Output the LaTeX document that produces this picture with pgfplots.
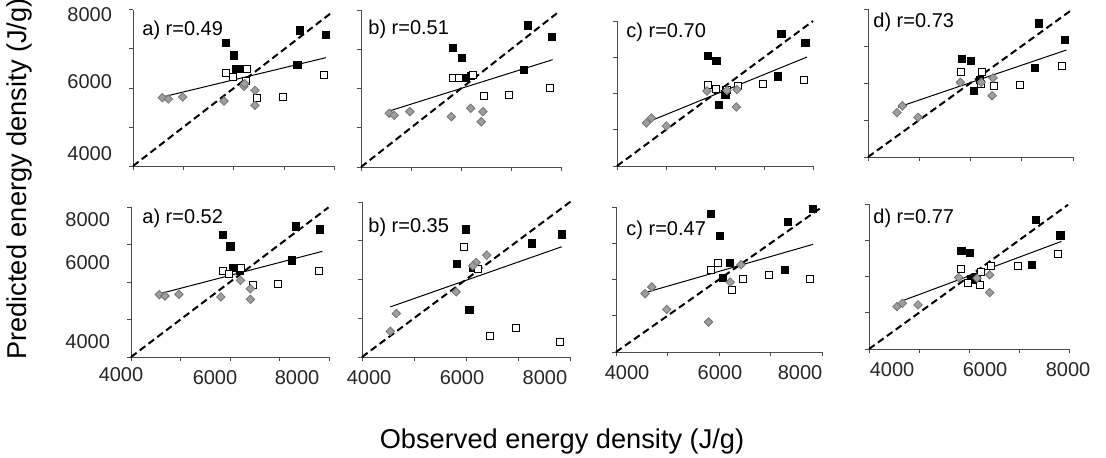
\documentclass[border=0pt]{standalone}
\usepackage{fontspec}
\setmainfont{Liberation Sans}
\usepackage{pgfplots}
\pgfplotsset{compat=1.18}

% 1 px of the reference = 0.5pt
\pgfplotsset{
  panel/.style={
    scale only axis, anchor=south west, clip=false,
    xmin=4000, xmax=8000, ymin=4000, ymax=8000,
    axis x line=bottom, axis y line=left,
    axis line style={-, draw=black!70, line width=0.5pt},
    xtick={4000,5000,6000,7000,8000},
    ytick={4000,5000,6000,7000,8000},
    xticklabels={}, yticklabels={},
    tick align=outside, major tick length=2pt,
    tick style={draw=black!70, line width=0.5pt},
    tick label style={font=\fontsize{10}{12}\selectfont, text=black!85},
    /pgf/number format/assume math mode=true,
  },
  % the reference sets its tick numbers a little off the ticks; keep them where they stand
  bottomrow/.style={extra x ticks={#1}, extra x tick labels={4000,6000,8000},
    extra x tick style={major tick length=0pt, xticklabel style={yshift=-3pt}}},
  leftcol/.style={extra y ticks={#1}, extra y tick labels={4000,6000,8000},
    extra y tick style={major tick length=0pt, yticklabel style={xshift=-7pt}}},
  blk/.style={only marks, mark=square*, mark size=1.8pt, mark options={fill=black, draw=black}},
  wht/.style={only marks, mark=square*, mark size=1.75pt, mark options={fill=white, draw=black, line width=0.5pt}},
  dia/.style={only marks, mark=square*, mark size=1.5pt, mark options={rotate=45, fill=black!38, draw=black!55, line width=0.4pt}},
  reg/.style={no marks, black, line width=0.5pt},
  one/.style={no marks, black, line width=1pt, dash pattern=on 3.5pt off 2pt},
}

\begin{document}
\begin{tikzpicture}
\useasboundingbox (0,0) rectangle (553pt,228.5pt);

% ---------------- top row ----------------
\begin{axis}[panel, leftcol={4308,6154,7872}, at={(66.5pt,145.5pt)}, width=101pt, height=78pt]
  \addplot[one] coordinates {(4000,4000) (7950,7950)};
  \addplot[reg] coordinates {(4581,5769) (7822,6778)};
  \addplot[blk] coordinates {(5842,7162) (5999,6838) (6039,6496) (6185,6496) (7307,7479) (7822,7368) (7254,6598)};
  \addplot[wht] coordinates {(5842,6385) (5987,6282) (6251,6479) (6231,6171) (6449,5744) (6964,5769) (7782,6342)};
  \addplot[dia] coordinates {(4581,5752) (4700,5718) (4983,5769) (5802,5667) (6198,6043) (6416,5940) (6416,5556) (6211,6111)};
\end{axis}

\begin{axis}[panel, at={(180.5pt,145pt)}, width=100pt, height=78.5pt]
  \addplot[one] coordinates {(4000,4000) (7960,7960)};
  \addplot[reg] coordinates {(4565,5427) (7834,6735)};
  \addplot[blk] coordinates {(5841,7034) (6020,6778) (6093,6274) (6193,6325) (7256,6470) (7336,7607) (7814,7308)};
  \addplot[wht] coordinates {(5841,6274) (5960,6274) (6239,6350) (6452,5812) (6950,5838) (7781,6017)};
  \addplot[dia] coordinates {(4565,5368) (4664,5316) (4977,5410) (5807,5282) (6193,5496) (6439,5410) (6405,5154)};
\end{axis}

\begin{axis}[panel, at={(308.5pt,145.5pt)}, width=98pt, height=72.5pt]
  \addplot[one] coordinates {(4000,4000) (8000,8000)};
  \addplot[reg] coordinates {(4578,5186) (7878,7007)};
  \addplot[blk] coordinates {(5857,7034) (6027,6897) (7354,7651) (7844,7402) (7286,6474) (6075,5692) (6211,5977) (6231,6106)};
  \addplot[wht] coordinates {(5857,6244) (6027,6133) (6245,6087) (6469,6216) (6980,6271) (7810,6382)};
  \addplot[dia] coordinates {(4599,5186) (4701,5324) (5007,5103) (5837,6069) (6245,6087) (6449,6106) (6435,5628)};
\end{axis}

\begin{axis}[panel, at={(434pt,150pt)}, width=102.5pt, height=74pt]
  \addplot[one] coordinates {(4000,4000) (7950,7950)};
  \addplot[reg] coordinates {(4585,5345) (7870,6891)};
  \addplot[blk] coordinates {(5834,6655) (6003,6591) (6179,6091) (6062,5791) (7337,7609) (7844,7155) (7259,6409)};
  \addplot[wht] coordinates {(5821,6291) (6231,6309) (6211,5982) (6452,5927) (6959,5955) (7792,6455)};
  \addplot[dia] coordinates {(4566,5200) (4670,5382) (4976,5073) (5802,6018) (6211,6018) (6439,6136) (6420,5655)};
\end{axis}

% ---------------- bottom row ----------------
\begin{axis}[panel, leftcol={4400,6507,7653}, extra x ticks={5697,7354},
    extra x tick labels={6000,8000},
    extra x tick style={major tick length=0pt, xticklabel style={yshift=-3pt}},
    at={(65.5pt,50pt)}, width=99pt, height=75pt]
  \addplot[one] coordinates {(4000,4000) (7990,7990)};
  \addplot[reg] coordinates {(4585,5689) (7866,6818)};
  \addplot[blk] coordinates {(5849,7262) (6010,6951) (6064,6373) (6198,6311) (7328,7484) (7812,7404) (7254,6578)};
  \addplot[wht] coordinates {(5849,6293) (5983,6222) (6232,6373) (6467,5929) (6971,5956) (7798,6293)};
  \addplot[dia] coordinates {(4571,5662) (4686,5627) (4968,5671) (5815,5600) (6212,6044) (6413,5822) (6413,5538)};
\end{axis}
% its 4000 stands left of the axis corner
\node[anchor=north, font=\fontsize{10}{12}\selectfont, text=black!85] at (60.5pt,48.5pt) {4000};

\begin{axis}[panel, bottomrow={4135,5923,7519}, at={(181pt,50pt)}, width=104pt, height=77.5pt]
  \addplot[one] coordinates {(4000,4000) (8010,8010)};
  \addplot[reg] coordinates {(4544,5293) (7840,6845)};
  \addplot[blk] coordinates {(6003,7293) (5824,6397) (6144,6302) (7264,6931) (7840,7164) (6067,5207)};
  \addplot[wht] coordinates {(5965,6845) (6240,6284) (6464,4534) (6957,4759) (7808,4388)};
  \addplot[dia] coordinates {(4544,4664) (4659,5121) (5811,5681) (6195,6440) (6400,6629) (6131,6353)};
\end{axis}

\begin{axis}[panel, bottomrow={4214,6019,7573}, at={(308pt,52.5pt)}, width=103pt, height=72.5pt]
  \addplot[one] coordinates {(4000,4000) (7990,7990)};
  \addplot[reg] coordinates {(4564,5637) (7825,6970)};
  \addplot[blk] coordinates {(5841,7816) (6023,7200) (6204,6455) (6075,6041) (7332,7586) (7825,7954) (7274,6271)};
  \addplot[wht] coordinates {(5841,6253) (5977,6464) (6250,5701) (6464,6005) (6963,6115) (7760,6005)};
  \addplot[dia] coordinates {(4564,5609) (4694,5793) (4985,5177) (5796,4828) (6217,5931) (6425,6409)};
\end{axis}

\begin{axis}[panel, bottomrow={4460,6320,7980}, at={(434.5pt,54pt)}, width=100pt, height=72.5pt]
  \addplot[one] coordinates {(4000,4000) (7980,7980)};
  \addplot[reg] coordinates {(4627,5309) (7847,6968)};
  \addplot[blk] coordinates {(5847,6710) (6013,6645) (7333,7567) (7827,7134) (7260,6323) (6047,5935) (6113,5908) (6147,6000)};
  \addplot[wht] coordinates {(5833,6203) (5980,5816) (6213,5770) (6247,6120) (6447,6295) (6980,6295) (7780,6627)};
  \addplot[dia] coordinates {(4560,5171) (4667,5263) (4980,5217) (5793,5972) (6413,6046) (6413,5558) (6160,5954)};
\end{axis}

% panel labels
\begin{scope}[every node/.style={anchor=west, inner sep=0pt, font=\fontsize{10}{12}\selectfont}]
  \node at (71pt,213.5pt) {a) r=0.49};
  \node at (184pt,214pt) {b) r=0.51};
  \node at (313pt,212.5pt) {c) r=0.70};
  \node at (436.5pt,217.5pt) {d) r=0.73};
  \node at (71pt,119.5pt) {a) r=0.52};
  \node at (184pt,115pt) {b) r=0.35};
  \node at (313pt,113.5pt) {c) r=0.47};
  \node at (436.5pt,119.5pt) {d) r=0.77};
\end{scope}

% shared axis titles
\node[anchor=base, inner sep=0pt, font=\fontsize{13.6}{16}\selectfont] at (281pt,4.5pt) {Observed energy density (J/g)};
\node[anchor=base, rotate=90, inner sep=0pt, font=\fontsize{13.6}{16}\selectfont] at (13.5pt,139pt) {Predicted energy density (J/g)};
\end{tikzpicture}
\end{document}
